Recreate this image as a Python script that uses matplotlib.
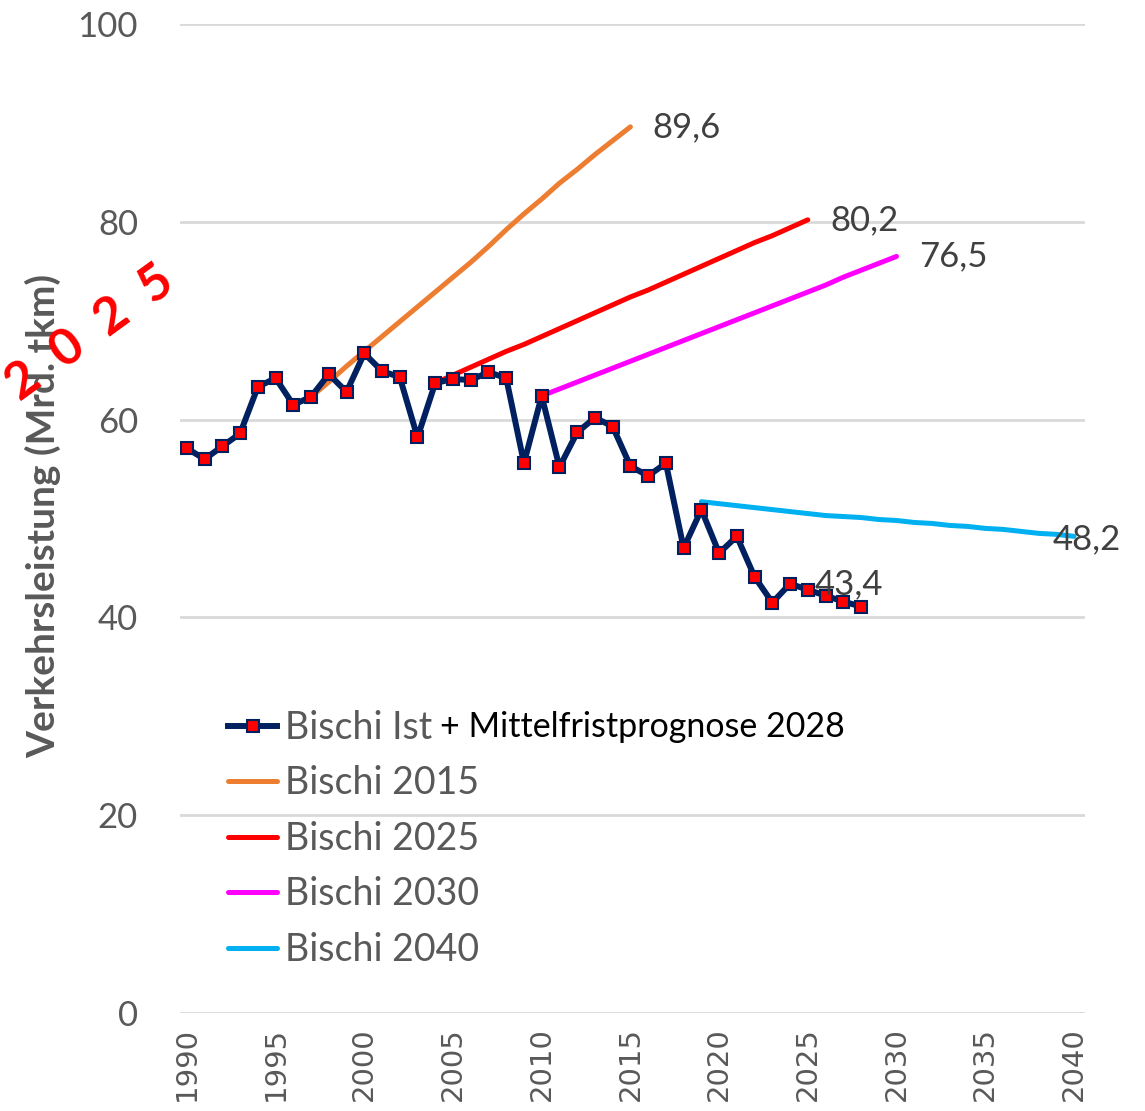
import numpy as np
import matplotlib
matplotlib.use("Agg")
import matplotlib.pyplot as plt

# Bischi Ist + Mittelfristprognose (Mrd. tkm)
ist_years = list(range(1990, 2029))
ist_values = [57.1, 56.0, 57.3, 58.6, 63.3, 64.2, 61.5, 62.3, 64.6, 62.8,
              66.7, 64.9, 64.3, 58.2, 63.7, 64.1, 64.0, 64.8, 64.2, 55.6,
              62.4, 55.2, 58.7, 60.2, 59.3, 55.3, 54.3, 55.6, 47.0, 50.9,
              46.5, 48.2, 44.1, 41.5, 43.4, 42.8, 42.2, 41.6, 41.1]

# Prognosen
p2015_years = list(range(1997, 2016))
p2015_values = [62.3, 63.8, 65.4, 66.9, 68.4, 69.9, 71.4, 72.9, 74.4, 75.9,
                77.5, 79.2, 80.8, 82.3, 83.9, 85.3, 86.8, 88.2, 89.6]

p2025_years = list(range(2004, 2026))
p2025_values = [63.7, 64.5, 65.3, 66.1, 66.9, 67.6, 68.4, 69.2, 70.0, 70.8,
                71.6, 72.4, 73.1, 73.9, 74.7, 75.5, 76.3, 77.1, 77.9, 78.6,
                79.4, 80.2]

p2030_years = list(range(2010, 2031))
p2030_values = [62.4, 63.1, 63.8, 64.5, 65.2, 65.9, 66.6, 67.3, 68.0, 68.7,
                69.4, 70.1, 70.8, 71.5, 72.2, 72.9, 73.6, 74.4, 75.1, 75.8,
                76.5]

p2040_years = list(range(2019, 2041))
p2040_values = [51.7, 51.5, 51.3, 51.1, 50.9, 50.7, 50.5, 50.3, 50.2, 50.1,
                49.9, 49.8, 49.6, 49.5, 49.3, 49.2, 49.0, 48.9, 48.7, 48.5,
                48.4, 48.2]

font = "Lato"
grey = "#595959"

fig = plt.figure(figsize=(11.45, 11.11), dpi=100)
ax = fig.add_axes([0.157, 0.0882, 0.791, 0.8902])

ax.plot(p2015_years, p2015_values, color="#ED7D31", lw=3.6, label="Bischi 2015",
        solid_capstyle="round", zorder=3)
ax.plot(p2025_years, p2025_values, color="#FF0000", lw=3.6, label="Bischi 2025",
        solid_capstyle="round", zorder=3)
ax.plot(p2030_years, p2030_values, color="#FF00FF", lw=3.6, label="Bischi 2030",
        solid_capstyle="round", zorder=3)
ax.plot(p2040_years, p2040_values, color="#00B0F0", lw=3.6, label="Bischi 2040",
        solid_capstyle="round", zorder=3)
ax.plot(ist_years, ist_values, color="#002060", lw=4.3, marker="s", ms=9,
        mfc="#FF0000", mec="#002060", mew=1.5, label="Bischi Ist", zorder=4)

# Datenbeschriftungen
labels = [(2015, 89.6, 16, 0), (2025, 80.2, 16, 0), (2030, 76.5, 16, 0),
          (2040, 48.2, -15, -2), (2025.4, 43.4, 0, 0)]
for x, y, dx, dy in labels:
    ax.annotate(f"{y:.1f}".replace(".", ","), (x, y), xytext=(dx, dy),
                textcoords="offset points", ha="left", va="center",
                fontsize=25, family=font, color="#404040", zorder=5)

ax.set_xlim(1989.6, 2040.65)
ax.set_ylim(0, 100)
ax.set_yticks(range(0, 101, 20))
ax.set_xticks(range(1990, 2041, 5))
ax.tick_params(axis="y", length=0, pad=30, labelsize=25, labelcolor=grey)
ax.tick_params(axis="x", length=0, pad=10, labelsize=21, labelcolor=grey,
               labelrotation=90)
for t in ax.get_yticklabels():
    t.set_family(font)
for t in ax.get_xticklabels():
    t.set_family("DejaVu Sans")
ax.grid(axis="y", color="#D9D9D9", lw=2)
ax.set_axisbelow(True)
for s in ax.spines.values():
    s.set_visible(False)

fig.text(0.038, 0.536, "Verkehrsleistung (Mrd. tkm)", rotation=90,
         ha="center", va="center", fontsize=28, fontweight="bold",
         family=font, color=grey)

# Legende
h, l = ax.get_legend_handles_labels()
order = [4, 0, 1, 2, 3]
leg = ax.legend([h[i] for i in order], [l[i] for i in order],
                loc="upper left", bbox_to_anchor=(0.183, 0.378),
                bbox_transform=fig.transFigure, frameon=False,
                fontsize=27, handlelength=1.3, handletextpad=0.2,
                labelspacing=0.52, borderpad=0)
for t in leg.get_texts():
    t.set_color(grey)
    t.set_family(font)

fig.text(0.384, 0.346, "+ Mittelfristprognose 2028", ha="left", va="center",
         fontsize=24.5, family=font, color="black")

# roter Stempel "2025", links leicht angeschnitten wie im Original
fig.text(0.079, 0.70, "2  0  2  5", rotation=36, ha="center", va="center",
         fontsize=37, fontweight="bold", family=font, color="#FF0000")

fig.savefig("out.png", dpi=100)
